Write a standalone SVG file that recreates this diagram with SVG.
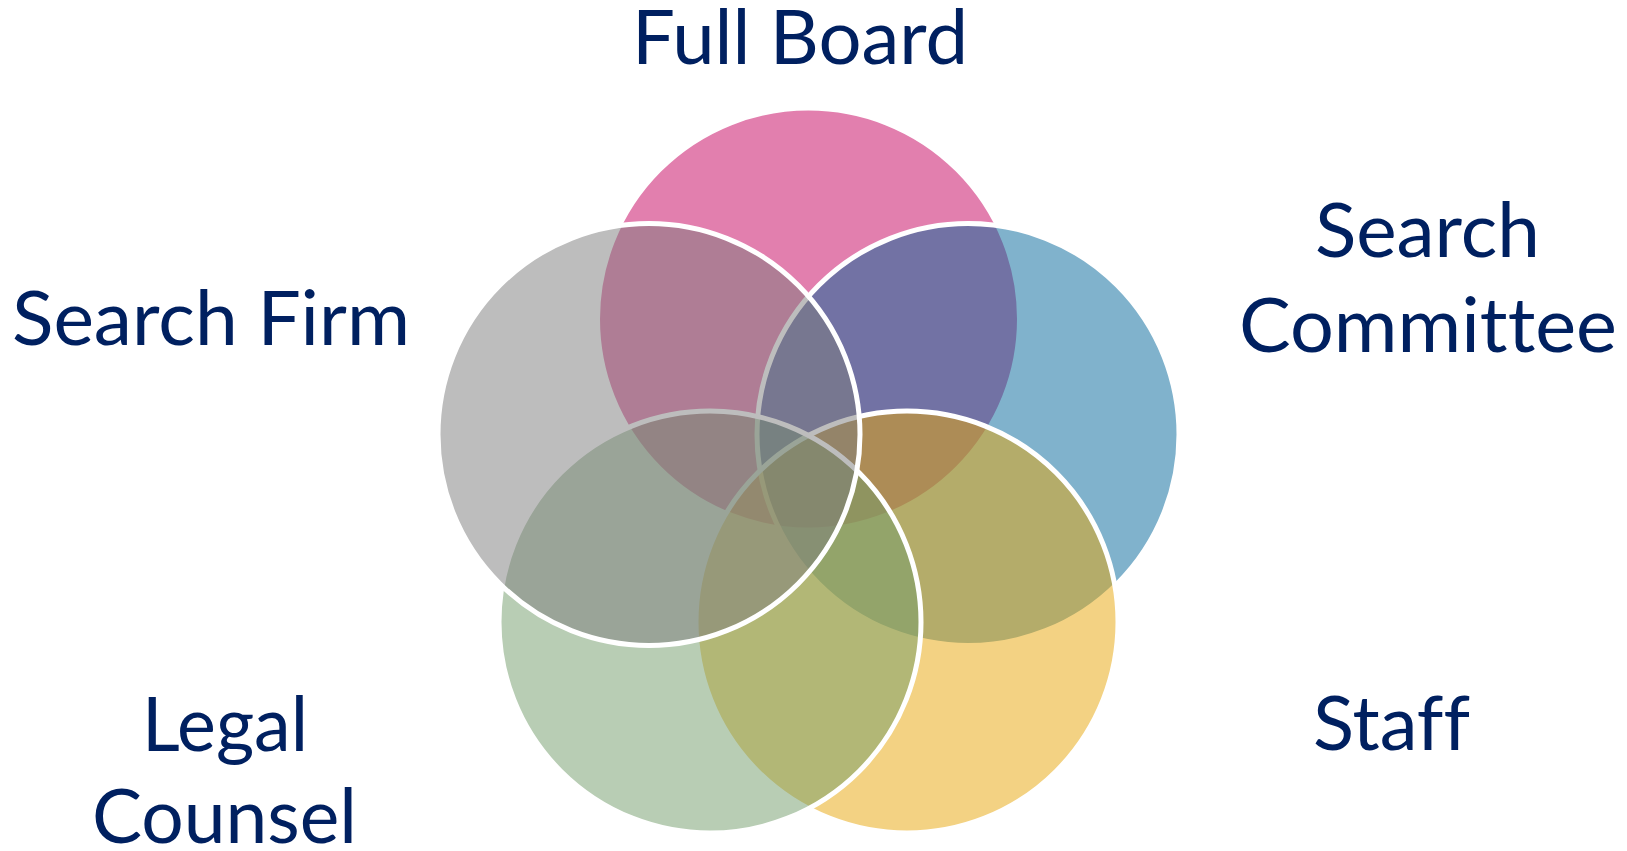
<svg xmlns="http://www.w3.org/2000/svg" width="1627" height="851" viewBox="0 0 1627 851">
<style>
.c{stroke:#ffffff;stroke-width:5}
.lbl{font-family:Lato,"Open Sans","Liberation Sans",sans-serif;font-size:75px;fill:#002060;font-variant-ligatures:none;font-feature-settings:"liga" 0,"clig" 0}
</style>
<rect width="1627" height="851" fill="#ffffff"/>
<g id="circles">
<g id="full-board-circle"><circle class="c" cx="808.5" cy="319" r="211" fill="rgb(197,0,93)" fill-opacity="0.5"/></g>
<g id="search-committee-circle"><circle class="c" cx="968" cy="434.5" r="211" fill="rgb(1,101,153)" fill-opacity="0.5"/></g>
<g id="staff-circle"><circle class="c" cx="907" cy="622" r="211" fill="rgb(231,165,7)" fill-opacity="0.5"/></g>
<g id="legal-counsel-circle"><circle class="c" cx="710" cy="622" r="211" fill="rgb(113,155,105)" fill-opacity="0.5"/></g>
<g id="search-firm-circle"><circle class="c" cx="649" cy="434.5" r="211" fill="rgb(123,123,123)" fill-opacity="0.5"/></g>
</g>
<g id="connectors"></g>
<g id="full-board"><text class="lbl" x="632" y="63.5" textLength="336" lengthAdjust="spacingAndGlyphs">Full Board</text></g>
<g id="search-firm"><text class="lbl" x="12" y="345" textLength="398" lengthAdjust="spacingAndGlyphs">Search Firm</text></g>
<g id="search-committee">
<text class="lbl" x="1315" y="257" textLength="225" lengthAdjust="spacingAndGlyphs">Search</text>
<text class="lbl" x="1239" y="352" textLength="378" lengthAdjust="spacingAndGlyphs">Committee</text>
</g>
<g id="staff"><text class="lbl" x="1313" y="750" textLength="157" lengthAdjust="spacingAndGlyphs">Staff</text></g>
<g id="legal-counsel">
<text class="lbl" x="142" y="751" textLength="166" lengthAdjust="spacingAndGlyphs">Legal</text>
<text class="lbl" x="92" y="843" textLength="265" lengthAdjust="spacingAndGlyphs">Counsel</text>
</g>
</svg>
